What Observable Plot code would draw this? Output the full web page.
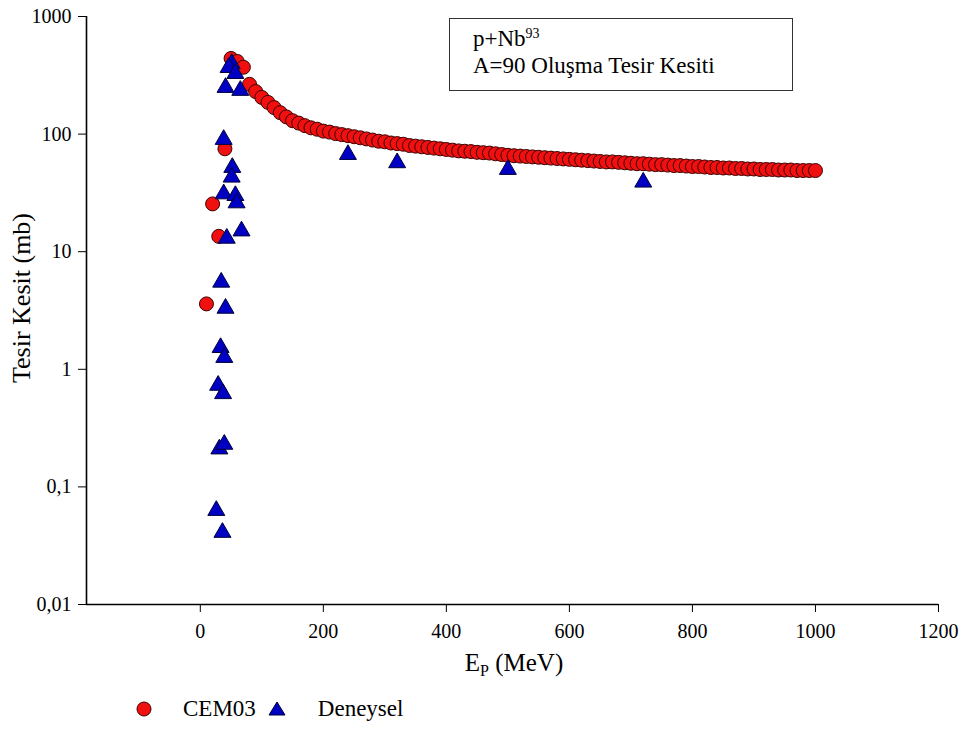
<!DOCTYPE html>
<html><head><meta charset="utf-8">
<script src="https://cdn.jsdelivr.net/npm/d3@7"></script>
<script src="https://cdn.jsdelivr.net/npm/@observablehq/plot@0.6"></script>
<style>
body{margin:0;background:#fff;font-family:"Liberation Serif","Times New Roman",serif;color:#000;}
#wrap{position:relative;width:968px;height:729px;overflow:hidden;}
#chart{position:absolute;left:0;top:0;}
.ylab{position:absolute;left:22px;top:298px;transform:translate(-50%,-50%) rotate(-90deg);font-size:26px;white-space:nowrap;}
.xlab{position:absolute;left:514px;top:664px;transform:translate(-50%,-50%);font-size:25px;white-space:nowrap;}
.xlab sub{font-size:16px;vertical-align:-5px;}
.box{position:absolute;left:449px;top:18px;width:344px;height:73px;border:1px solid #333;box-sizing:border-box;font-size:23px;line-height:27px;padding:6px 0 0 23px;}
.box sup{font-size:14px;vertical-align:8px;line-height:0;}
.legend{position:absolute;left:134px;top:696px;font-size:23px;display:flex;align-items:center;white-space:nowrap;}
.legend svg{display:block;}
</style></head><body>
<div id="wrap">
  <div id="chart"></div>
  <div class="ylab">Tesir Kesit (mb)</div>
  <div class="xlab">E<sub>P</sub> (MeV)</div>
  <div class="box">p+Nb<sup>93</sup><br>A=90 Oluşma Tesir Kesiti</div>
  <div class="legend" id="legend"></div>
</div>
<script>
// CEM03 calculation (MeV, mb)
const cemE = [10,20,30,40,50,60,70,80,90,100,110,120,130,140,150,160,170,180,190,200,
  210,220,230,240,250,260,270,280,290,300,310,320,330,340,350,360,370,380,390,400,
  410,420,430,440,450,460,470,480,490,500,510,520,530,540,550,560,570,580,590,600,
  610,620,630,640,650,660,670,680,690,700,710,720,730,740,750,760,770,780,790,800,
  810,820,830,840,850,860,870,880,890,900,910,920,930,940,950,960,970,980,990,1000];
const cemV = [3.6,25.5,13.5,75,440,415,370,265,230,205,186,168,152,140,130,124,118,113,110,106,
  104,101,99,97,95,93,91,89,87,86,84,83,82,80,79,78,77,76,75,74,
  73,72,71.5,71,70,69.5,69,68,67,66,65.5,65,64.5,64,63.5,63,62.5,62,61.5,61,
  60.5,60,59.5,59,58.5,58,58,57.5,57,56.5,56,56,55.5,55,55,54.5,54,54,53.5,53,
  53,52.5,52,52,51.5,51.5,51,51,50.5,50.5,50,50,50,49.5,49.5,49.5,49,49,49,49];
// Experimental data (Deneysel)
const expE = [51,46,57,41,65,38,52,51,38,57,59,67,43,34,41,33,39,29,37,31,39,26,36,240,320,500,720];
const expV = [398,368,327,249,235,90,52,43,31,30,26,15,13,5.5,3.3,1.53,1.26,0.73,0.62,0.21,0.23,0.063,0.041,67,57,50,39];
// Axes
const xTicks = [0,200,400,600,800,1000,1200];
const yTicks = [0.01,0.1,1,10,100,1000];
const xDomain = [-185,1200];
const yDomain = [0.01,1000];
const seriesNames = ["CEM03","Deneysel"];
const seriesFill = ["#f01010","#0000c4"];
const seriesStroke = ["#3a0000","#00003a"];

const cem = cemE.map((e,i)=>({e, v:cemV[i]}));
const exp = expE.map((e,i)=>({e, v:expV[i]}));

const plot = Plot.plot({
  width:968, height:690,
  marginLeft:86, marginRight:30, marginTop:16, marginBottom:86,
  style:{fontFamily:"'Liberation Serif', serif", fontSize:"20px", color:"#000", background:"#fff", overflow:"visible"},
  x:{domain:xDomain, ticks:xTicks, tickFormat:d=>String(d), tickSize:8, tickPadding:11, label:null},
  y:{type:"log", domain:yDomain, ticks:yTicks, tickFormat:d=>String(d).replace(".",","), tickSize:8, tickPadding:7, label:null},
  marks:[
    Plot.ruleX([xDomain[0]], {stroke:"#000", strokeWidth:1.6}),
    Plot.ruleY([yDomain[0]], {stroke:"#000", strokeWidth:1.6}),
    Plot.dot(cem, {x:"e", y:"v", r:7, fill:seriesFill[0], stroke:seriesStroke[0], strokeWidth:1}),
    Plot.dot(exp, {x:"e", y:"v", symbol:"triangle", r:6.3, fill:seriesFill[1], stroke:seriesStroke[1], strokeWidth:1})
  ]
});
document.getElementById("chart").appendChild(plot);

// legend
const lg = document.getElementById("legend");
lg.innerHTML =
  `<svg width="20" height="20"><circle cx="10" cy="10" r="7" fill="${seriesFill[0]}" stroke="${seriesStroke[0]}"/></svg>` +
  `<span style="margin-left:29px">${seriesNames[0]}</span>` +
  `<svg width="22" height="20" style="margin-left:10px"><path d="M11,3 L19,16 L3,16 Z" fill="${seriesFill[1]}" stroke="${seriesStroke[1]}"/></svg>` +
  `<span style="margin-left:30px">${seriesNames[1]}</span>`;
</script>
</body></html>
